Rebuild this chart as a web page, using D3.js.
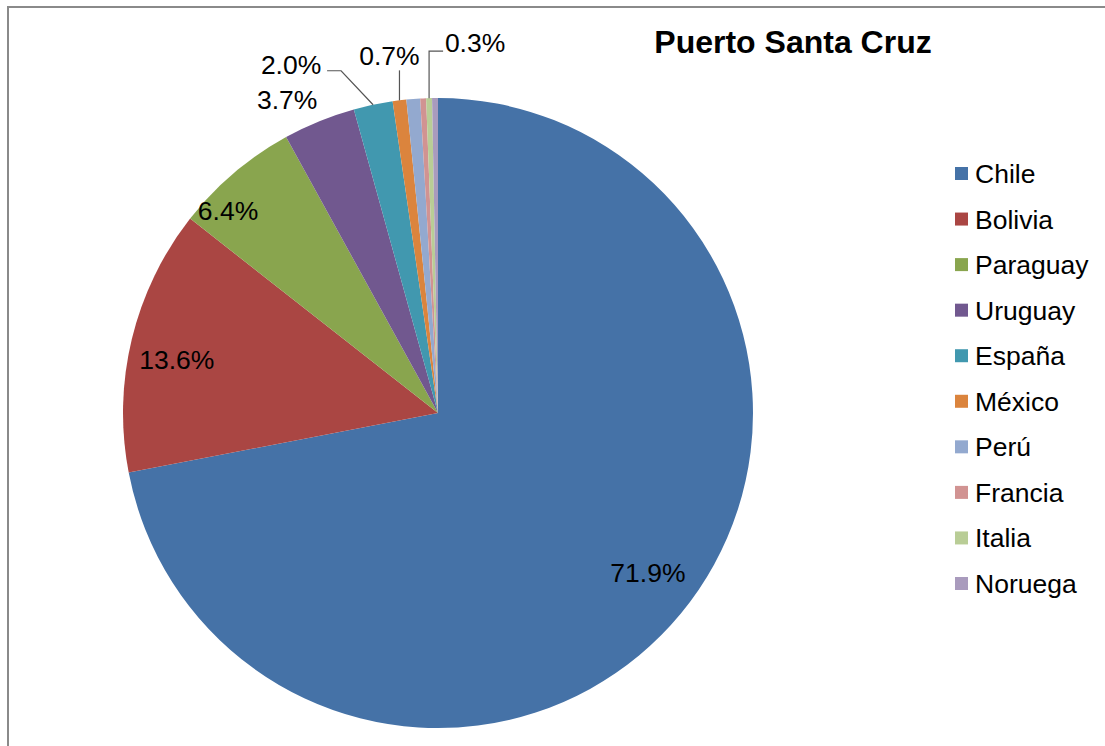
<!DOCTYPE html>
<html>
<head>
<meta charset="utf-8">
<script src="https://cdn.jsdelivr.net/npm/d3@7"></script>
<style>
  html, body { margin: 0; padding: 0; background: #fff; }
  svg { display: block; font-family: "Liberation Sans", Arial, sans-serif; }
</style>
</head>
<body>
<svg id="chart" width="1105" height="746"></svg>
<script>
// ---- data ----
const title = "Puerto Santa Cruz";
const categories = ["Chile", "Bolivia", "Paraguay", "Uruguay", "España", "México", "Perú", "Francia", "Italia", "Noruega"];
const values = [71.9, 13.6, 6.4, 3.7, 2.0, 0.7, 0.7, 0.3, 0.3, 0.3];
const shownLabels = ["Chile", "Bolivia", "Paraguay", "Uruguay", "España", "México", "Italia"];
const colors = ["#4572A7", "#AA4643", "#89A54E", "#71588F", "#4198AF", "#DB843D", "#93A9CF", "#D19392", "#B9CD96", "#A99BBD"];

// ---- layout ----
const svg = d3.select("#chart");
const cx = 438, cy = 413, R = 315;

svg.append("rect")
  .attr("x", 8).attr("y", 7).attr("width", 1300).attr("height", 900)
  .attr("fill", "#fff").attr("stroke", "#8a8a8a").attr("stroke-width", 2);

const data = categories.map((c, i) => ({ name: c, value: values[i], color: colors[i] }));

const pie = d3.pie().value(d => d.value).sort(null);
const arcs = pie(data);
const arc = d3.arc().innerRadius(0).outerRadius(R);

const g = svg.append("g").attr("transform", `translate(${cx},${cy})`);
g.selectAll("path.slice")
  .data(arcs)
  .join("path")
  .attr("class", "slice")
  .attr("d", arc)
  .attr("fill", d => d.data.color);

// label placement (offset from the slice's outer mid point, Excel best-fit look)
const labelStyle = {
  "Chile":   { tx: -33, ty: -41 },
  "Bolivia": { tx: 45, ty: 21 },
  "Paraguay":{ tx: -6, ty: 38 },
  "Uruguay": { tx: -32, ty: -21 },
  "España":  { tx: -82, ty: -40, leader: "elbow" },
  "México":  { tx: -10, ty: -44, leader: "vertical" },
  "Italia":  { tx: 46, ty: -55, leader: "corner" }
};

const fmt = v => v.toFixed(1) + "%";
const lbl = svg.append("g");
arcs.filter(a => shownLabels.includes(a.data.name)).forEach(a => {
  const st = labelStyle[a.data.name];
  const mid = (a.startAngle + a.endAngle) / 2;
  const ex = cx + Math.sin(mid) * R, ey = cy - Math.cos(mid) * R;
  const tx = ex + st.tx, ty = ey + st.ty;
  lbl.append("text")
    .attr("x", tx).attr("y", ty)
    .attr("text-anchor", "middle")
    .attr("dominant-baseline", "central")
    .attr("font-size", 26.5)
    .attr("fill", "#000")
    .text(fmt(a.data.value));
  let pts = null;
  if (st.leader === "elbow") {
    pts = [[tx + 36, ty + 6], [tx + 50, ty + 6], [ex, ey]];
  } else if (st.leader === "vertical") {
    pts = [[ex, ty + 14], [ex, ey]];
  } else if (st.leader === "corner") {
    pts = [[tx - 32, ey - 47], [ex, ey - 47], [ex, ey]];
  }
  if (pts) {
    lbl.append("path")
      .attr("d", d3.line()(pts))
      .attr("fill", "none")
      .attr("stroke", "#555")
      .attr("stroke-width", 1.2);
  }
});

// title
svg.append("text")
  .attr("x", 793).attr("y", 53)
  .attr("text-anchor", "middle")
  .attr("font-size", 32)
  .attr("font-weight", "bold")
  .attr("fill", "#000")
  .text(title);

// legend
const ly = d3.scalePoint().domain(categories).range([174, 584]);
const leg = svg.append("g");
const items = leg.selectAll("g").data(data).join("g")
  .attr("transform", d => `translate(955,${ly(d.name)})`);
items.append("rect")
  .attr("x", 0).attr("y", -7).attr("width", 13).attr("height", 13)
  .attr("fill", d => d.color);
items.append("text")
  .attr("x", 20).attr("y", 0)
  .attr("dominant-baseline", "central")
  .attr("font-size", 26.5)
  .attr("fill", "#000")
  .text(d => d.name);
</script>
</body>
</html>
